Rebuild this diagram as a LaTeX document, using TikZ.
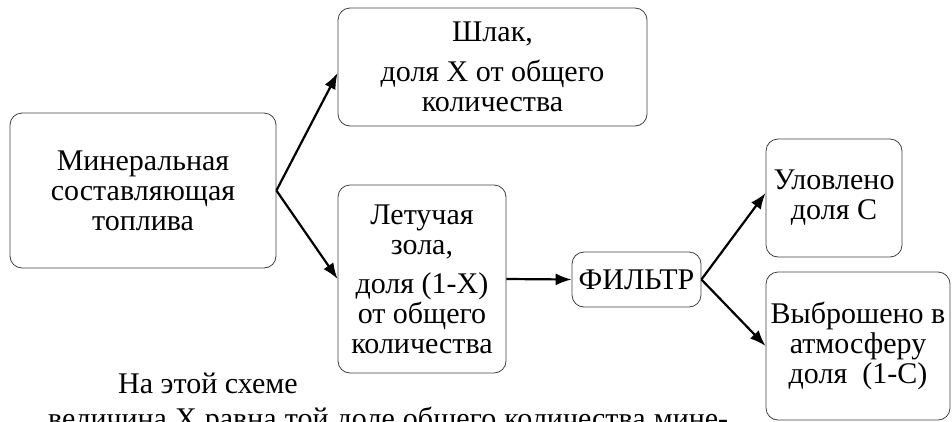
\documentclass[tikz,border=0pt]{standalone}
\usepackage{fontspec}
\setmainfont{Liberation Serif}
\usetikzlibrary{arrows.meta}
\tikzset{
  box/.style={draw=black!75, line width=0.8pt, rounded corners=12pt, inner sep=0pt, align=center,
    font=\fontsize{30}{30}\selectfont},
  arr/.style={line width=2.2pt, -{Latex[length=16pt,width=12pt]}},
  lbl/.style={inner sep=0pt, anchor=base west, font=\fontsize{30}{30}\selectfont}
}
\begin{document}
\begin{tikzpicture}[x=1pt,y=-1pt]
\useasboundingbox (0,0) rectangle (952,421);
\clip (0,0) rectangle (952,421);
\node[box, minimum width=266pt, minimum height=155pt] (min) at (143,190.5) {Минеральная\\составляющая\\топлива};
\node[box, minimum width=309pt, minimum height=118pt] (shl) at (492.5,67) {Шлак,\\[10pt]доля Х от общего\\количества};
\node[box, minimum width=168pt, minimum height=188pt] (let) at (422,279) {Летучая\\зола,\\[9pt]доля (1-Х)\\от общего\\количества};
\node[box, minimum width=129pt, minimum height=55pt] (fil) at (636.5,279.5) {ФИЛЬТР};
\node[box, minimum width=136pt, minimum height=118pt] (ulo) at (834,198) {Уловлено\\доля С};
\node[box, minimum width=184pt, minimum height=148pt] (vyb) at (858,346) {Выброшено в\\атмосферу\\доля~~(1-С)};
\draw[arr] (min.east) -- ([yshift=-6pt]shl.west);
\draw[arr] (min.east) -- (let.west);
\draw[arr] (let.east) -- (fil.west);
\draw[arr] (fil.east) -- ([yshift=5pt]ulo.west);
\draw[arr] (fil.east) -- (vyb.west);
\node[lbl] (t1) at (118,393) {На этой схеме};
\node[lbl] (t2) at (48,428) {\makebox[680pt][s]{величина Х равна той доле общего количества мине-}};
\end{tikzpicture}
\end{document}
